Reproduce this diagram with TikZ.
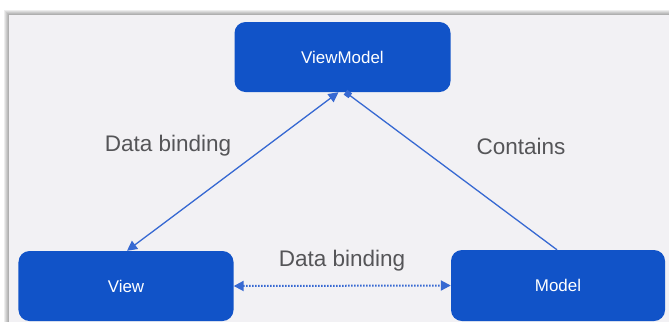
\documentclass[tikz,border=0pt]{standalone}
\usepackage{fontspec}
\setmainfont{Liberation Sans}
\usetikzlibrary{arrows.meta}
\definecolor{boxblue}{RGB}{17,83,200}
\definecolor{lineblue}{RGB}{55,105,210}
\definecolor{panel}{RGB}{242,241,244}
\definecolor{labelgray}{RGB}{85,85,88}
\tikzset{
  box/.style={draw=none, fill=boxblue, rounded corners=11bp, minimum width=216bp, minimum height=70bp, inner sep=0pt, text=white, font=\fontsize{17}{20}\selectfont},
  lab/.style={text=labelgray, font=\fontsize{22.6}{26}\selectfont, inner sep=0pt},
  conn/.style={draw=lineblue, line width=1.3bp},
}
\begin{document}
\begin{tikzpicture}[x=1bp,y=-1bp]
\useasboundingbox (0,0) rectangle (669,322);
\fill[white] (0,0) rectangle (669,322);
% shadow of panel
\foreach \i in {0,...,5}{
  \fill[black, opacity=0.07] (9-\i,15-\i) rectangle (669,322);
}
\fill[panel] (9,15) rectangle (669,322);
% nodes
\node[box] (vm) at (342.5,57) {ViewModel};
\node[box, minimum width=215bp] (view) at (126,286) {View};
\node[box, minimum width=214bp, minimum height=71bp] (model) at (558,285.5) {Model};
% labels
\node[lab] (l1) at (168,146) {Data binding};
\node[lab] (l2) at (521,146) {Contains};
\node[lab] (l3) at (342,261) {Data binding};
% connectors
\coordinate (vmL) at ([xshift=-4bp,yshift=0bp]vm.south);
\coordinate (vmR) at ([xshift=3bp]vm.south);
\coordinate (viewT) at ([xshift=1bp]view.north);
\coordinate (modelT) at ([xshift=-1bp]model.north);
\draw[conn, {Triangle[length=10bp,width=10bp]}-{Triangle[length=10bp,width=10bp]}] (viewT) -- (vmL);
\draw[conn, -{Square[length=6bp,width=6bp]}] (modelT) -- (vmR);
\draw[conn, dash pattern=on 1.5bp off 1.5bp, line width=2bp, {Triangle[length=10bp,width=10bp]}-{Triangle[length=10bp,width=10bp]}] (view.east) -- (model.west);
\end{tikzpicture}
\end{document}
